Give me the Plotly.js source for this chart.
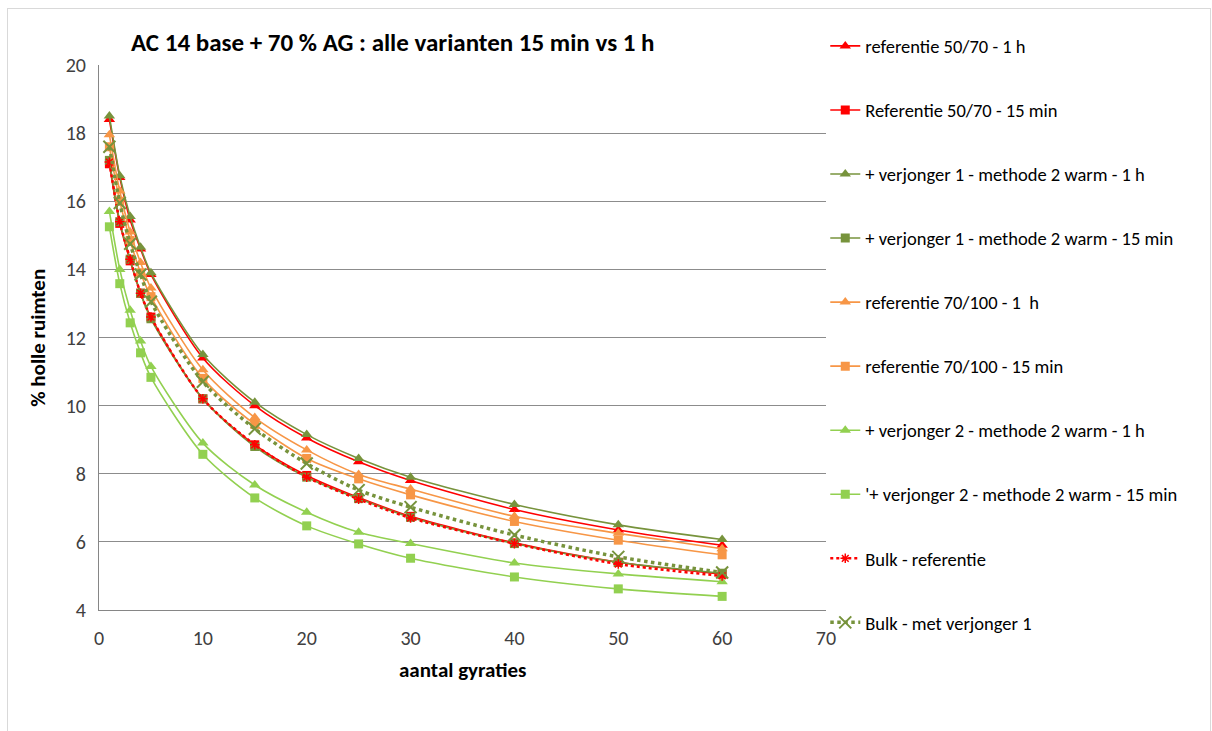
<!DOCTYPE html>
<html>
<head>
<meta charset="utf-8">
<script src="https://cdn.plot.ly/plotly-3.0.1.min.js"></script>
<style>
  html, body { margin: 0; padding: 0; background: #ffffff; overflow: hidden; }
  #frame { position: absolute; left: 7px; top: 8px; width: 1204px; height: 732px; border: 1px solid #d9d9d9; box-sizing: border-box; }
  #chart { width: 100%; height: 100%; }
</style>
</head>
<body>
<div id="frame"><div id="chart"></div></div>
<script>
// ---- data ----
var gyraties = [1, 2, 3, 4, 5, 10, 15, 20, 25, 30, 40, 50, 60];

var seriesNames = [
  "referentie 50/70 - 1 h",
  "Referentie 50/70 - 15 min",
  "+ verjonger 1 - methode 2 warm - 1 h",
  "+ verjonger 1 - methode 2 warm - 15 min",
  "referentie 70/100 - 1  h",
  "referentie 70/100 - 15 min",
  "+ verjonger 2 - methode 2 warm - 1 h",
  "'+ verjonger 2 - methode 2 warm - 15 min",
  "Bulk - referentie",
  "Bulk - met verjonger 1"
];

var ref5070_1h   = [18.4, 16.7, 15.45, 14.6, 13.85, 11.4, 10.0, 9.05, 8.35, 7.8, 6.95, 6.35, 5.9];
var ref5070_15   = [17.1, 15.35, 14.25, 13.3, 12.6, 10.2, 8.85, 7.95, 7.3, 6.75, 5.97, 5.4, 5.05];
var verj1_1h     = [18.5, 16.75, 15.55, 14.65, 13.9, 11.5, 10.1, 9.15, 8.45, 7.9, 7.1, 6.5, 6.07];
var verj1_15     = [17.2, 15.4, 14.3, 13.3, 12.55, 10.2, 8.8, 7.9, 7.27, 6.72, 5.95, 5.4, 5.08];
var ref70100_1h  = [17.95, 16.3, 15.1, 14.2, 13.45, 11.05, 9.65, 8.7, 7.98, 7.55, 6.75, 6.25, 5.8];
var ref70100_15  = [17.6, 16.0, 14.85, 13.9, 13.2, 10.8, 9.45, 8.45, 7.85, 7.38, 6.6, 6.05, 5.62];
var verj2_1h     = [15.7, 14.0, 12.8, 11.9, 11.15, 8.9, 7.67, 6.87, 6.28, 5.95, 5.38, 5.06, 4.83];
var verj2_15     = [15.25, 13.58, 12.43, 11.55, 10.83, 8.57, 7.29, 6.47, 5.94, 5.52, 4.97, 4.62, 4.4];
var bulk_ref     = [17.15, 15.4, 14.3, 13.3, 12.6, 10.2, 8.85, 7.9, 7.25, 6.7, 5.95, 5.35, 5.0];
var bulk_verj1   = [17.6, 15.95, 14.75, 13.85, 13.05, 10.7, 9.32, 8.3, 7.52, 7.02, 6.2, 5.56, 5.1];

var xTickVals = [0, 10, 20, 30, 40, 50, 60, 70];
var yTickVals = [4, 6, 8, 10, 12, 14, 16, 18, 20];

// ---- styles ----
var RED = "#ff0000", OLIVE = "#77933c", ORANGE = "#f79646", LGREEN = "#92d050";

function solid(y, name, color, symbol, size) {
  return {
    x: gyraties, y: y, name: name, type: "scatter", mode: "lines+markers",
    legendgroup: name,
    line: { color: color, width: 1.6, shape: "spline", smoothing: 0.8 },
    marker: { color: color, symbol: symbol, size: size }
  };
}

var traces = [
  solid(ref5070_1h, seriesNames[0], RED, "triangle-up", 10),
  solid(ref5070_15, seriesNames[1], RED, "square", 9),
  solid(verj1_1h, seriesNames[2], OLIVE, "triangle-up", 10),
  solid(verj1_15, seriesNames[3], OLIVE, "square", 9),
  solid(ref70100_1h, seriesNames[4], ORANGE, "triangle-up", 10),
  solid(ref70100_15, seriesNames[5], ORANGE, "square", 9),
  solid(verj2_1h, seriesNames[6], LGREEN, "triangle-up", 10),
  solid(verj2_15, seriesNames[7], LGREEN, "square", 9),
  {
    x: gyraties, y: bulk_ref, name: seriesNames[8], type: "scatter", mode: "lines+markers",
    legendgroup: seriesNames[8],
    line: { color: RED, width: 2.5, dash: "dot", shape: "spline", smoothing: 0.8 },
    marker: { color: RED, symbol: "asterisk-open", size: 8, line: { color: RED, width: 1.5 } }
  },
  {
    x: gyraties, y: bulk_verj1, name: seriesNames[9], type: "scatter", mode: "lines+markers",
    legendgroup: seriesNames[9],
    line: { color: OLIVE, width: 3.5, dash: "dot", shape: "spline", smoothing: 0.8 },
    marker: { color: OLIVE, symbol: "x-thin-open", size: 12, line: { color: OLIVE, width: 2 } }
  }
];

var FONT = "Carlito, Calibri, 'Liberation Sans', 'Open Sans', sans-serif";

var layout = {
  width: 1202, height: 730,
  margin: { l: 91, r: 384, t: 56, b: 129 },
  paper_bgcolor: "#ffffff", plot_bgcolor: "#ffffff",
  font: { family: FONT, color: "#595959", size: 20 },
  showlegend: true,
  title: {
    text: "<b>AC 14 base + 70 % AG : alle varianten 15 min vs 1 h</b>",
    font: { family: FONT, size: 25, color: "#000000" },
    xref: "paper", x: 0.044, xanchor: "left",
    yref: "container", y: 0.955, yanchor: "middle"
  },
  xaxis: {
    range: [0, 70], tickvals: xTickVals, ticktext: xTickVals.map(String),
    showgrid: false, zeroline: false,
    showline: true, linecolor: "#868686", linewidth: 1,
    ticks: "", ticklen: 0, ticklabelstandoff: 10,
    tickfont: { size: 20, color: "#404040", family: FONT },
    title: { text: "" }
  },
  yaxis: {
    range: [4, 20], tickvals: yTickVals, ticktext: yTickVals.map(String),
    showgrid: true, gridcolor: "#8c8c8c", gridwidth: 1,
    zeroline: false,
    showline: true, linecolor: "#868686", linewidth: 1,
    ticks: "", ticklen: 0, ticklabelstandoff: 8,
    tickfont: { size: 20, color: "#404040", family: FONT },
    title: { text: "" }
  },
  legend: {
    x: 0.999, xanchor: "left", y: 1.069, yanchor: "top",
    font: { family: FONT, size: 18.5, color: "#000000" },
    bgcolor: "rgba(0,0,0,0)",
    traceorder: "grouped", tracegroupgap: 37,
    itemwidth: 30,
    maxheight: 720
  },
  annotations: [
    {
      text: "<b>aantal gyraties</b>", xref: "paper", yref: "paper",
      x: 0.5, y: -0.11, xanchor: "center", yanchor: "middle",
      showarrow: false, font: { family: FONT, size: 21, color: "#000000" }
    },
    {
      text: "<b>% holle ruimten</b>", xref: "paper", yref: "paper",
      x: -0.085, y: 0.5, xanchor: "center", yanchor: "middle", textangle: -90,
      showarrow: false, font: { family: FONT, size: 21, color: "#000000" }
    }
  ]
};

Plotly.newPlot("chart", traces, layout, { displayModeBar: false, responsive: false, staticPlot: true });
</script>
</body>
</html>
